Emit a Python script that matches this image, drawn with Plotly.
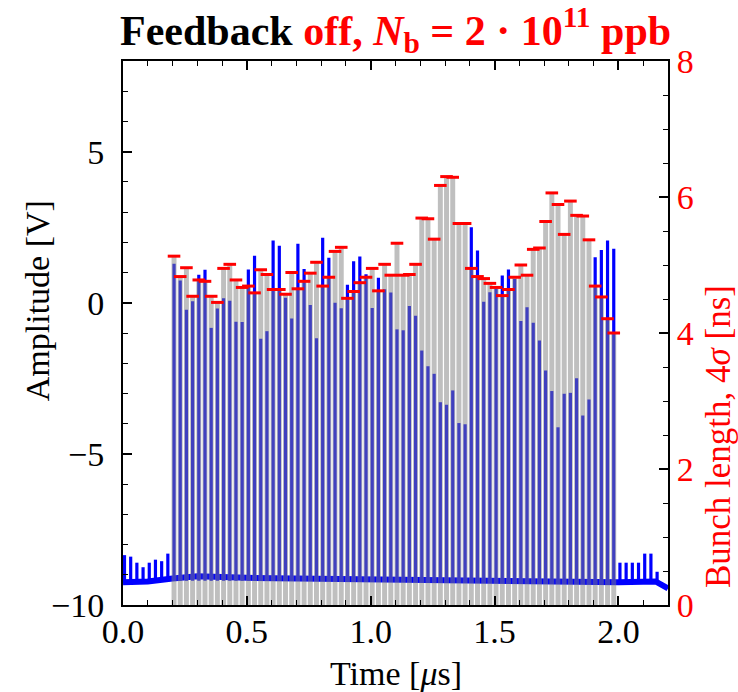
import plotly.graph_objects as go

# Bunch train: 72 bunches, 25 ns apart
bunch_number = list(range(1, 73))
first_bunch_us = 0.206
bunch_spacing_us = 0.025

# Bunch length (4 sigma) per bunch, ns  -> right axis
bunch_length_ns = [
    5.13, 4.83, 4.96, 4.54, 4.78, 4.76, 4.54, 4.45, 4.95, 5.01,
    4.78, 4.67, 4.69, 4.59, 4.93, 4.86, 4.64, 4.64, 4.57, 4.89,
    4.65, 4.76, 4.88, 5.04, 4.69, 4.82, 5.20, 5.26, 4.51, 4.61,
    4.74, 4.82, 4.95, 4.62, 5.01, 4.85, 5.32, 4.85, 4.86, 5.01,
    5.69, 5.68, 5.38, 6.17, 6.30, 6.29, 5.61, 5.61, 4.95, 4.83,
    4.80, 4.73, 4.67, 4.55, 4.64, 4.82, 5.00, 4.85, 5.23, 5.25,
    5.64, 6.06, 5.89, 5.45, 5.94, 5.73, 5.72, 5.37, 4.69, 4.53,
    4.21, 4.00,
]

# Peak of the pick-up signal per bunch, V  -> left axis
peak_amplitude_v = [
    1.29, 0.74, -0.23, 0.05, 0.93, 1.09, -0.83, -0.19, 0.15, 0.07,
    -0.63, -0.64, 1.10, 1.56, -1.19, -0.94, 2.06, 1.89, 0.17, -0.52,
    1.95, 1.12, -0.07, -1.17, 2.15, 1.49, 0.00, -0.18, 0.60, 1.37,
    1.53, 0.94, -0.17, 0.83, 0.45, 0.34, -0.88, -0.91, -0.11, -0.43,
    -1.58, -2.10, -2.35, -3.29, -3.37, -2.90, -3.98, -4.02, 2.50, 1.73,
    0.03, 0.35, 0.46, 0.90, 1.10, 0.79, -0.60, -0.15, -0.66, -1.25,
    -2.24, -2.92, -4.12, -3.01, -2.98, -2.50, -3.73, -3.20, 1.51, 1.75,
    2.06, 1.79,
]

# Small pulses in the empty buckets before and after the train
pre_pulse_t = [0.006, 0.031, 0.056, 0.081, 0.106, 0.131, 0.156, 0.181]
pre_pulse_v = [-8.35, -8.40, -8.60, -8.75, -8.60, -8.50, -8.55, -8.30]
post_pulse_t = [2.006, 2.031, 2.056, 2.081, 2.106, 2.131, 2.156]
post_pulse_v = [-8.60, -8.60, -8.60, -8.60, -8.30, -8.30, -8.90]

# Signal baseline
baseline_t = [0.0, 0.1, 0.2, 0.3, 0.5, 0.9, 1.3, 1.8, 2.0, 2.15, 2.2]
baseline_v = [-9.25, -9.22, -9.12, -9.05, -9.10, -9.15, -9.20, -9.25, -9.25, -9.22, -9.45]
spike_floor_v = -9.2

bunch_t = [first_bunch_us + (n - 1) * bunch_spacing_us for n in bunch_number]

BLUE = "#0000ff"
SERIF = "Liberation Serif"

fig = go.Figure()

# baseline of the pick-up signal
fig.add_trace(go.Scatter(
    x=baseline_t, y=baseline_v, mode="lines",
    line=dict(color=BLUE, width=6), yaxis="y", hoverinfo="skip",
))

# one vertical pulse per bucket
pulse_t = pre_pulse_t + bunch_t + post_pulse_t
pulse_v = pre_pulse_v + peak_amplitude_v + post_pulse_v
xs, ys = [], []
for t, v in zip(pulse_t, pulse_v):
    xs += [t, t, None]
    ys += [spike_floor_v, v, None]
fig.add_trace(go.Scatter(
    x=xs, y=ys, mode="lines",
    line=dict(color=BLUE, width=3.2), yaxis="y", hoverinfo="skip",
))

# bunch length bars (translucent, drawn over the signal)
fig.add_trace(go.Bar(
    x=bunch_t, y=bunch_length_ns, width=0.02, yaxis="y2",
    marker=dict(color="rgba(128,128,128,0.5)", line=dict(width=0)),
))

# red caps at the bar tops
fig.add_trace(go.Scatter(
    x=bunch_t, y=bunch_length_ns, mode="markers", yaxis="y2",
    marker=dict(symbol="line-ew", size=9, line=dict(color="#ff0000", width=3)),
))

tick_font = dict(family=SERIF, size=34, color="black")

fig.update_layout(
    width=738, height=692,
    margin=dict(l=123, r=70, t=61, b=87),
    paper_bgcolor="white", plot_bgcolor="white",
    showlegend=False, barmode="overlay",
    xaxis=dict(
        range=[0, 2.2], showgrid=False, zeroline=False,
        showline=True, linecolor="black", linewidth=2, mirror="ticks",
        ticks="inside", ticklen=9, tickwidth=1.5, tickcolor="black",
        tickvals=[0, 0.5, 1.0, 1.5, 2.0],
        ticktext=["0.0", "0.5", "1.0", "1.5", "2.0"],
        tickfont=tick_font, ticklabelstandoff=-5,
        minor=dict(ticks="inside", ticklen=5, tickwidth=1, dtick=0.1, tick0=0, tickcolor="black"),
    ),
    yaxis=dict(
        range=[-10, 8], showgrid=False, zeroline=False,
        showline=True, linecolor="black", linewidth=2,
        ticks="inside", ticklen=9, tickwidth=1.5, tickcolor="black",
        tickvals=[-10, -5, 0, 5],
        ticktext=["\u221210", "\u22125", "0", "5"],
        tickfont=tick_font, ticklabelstandoff=10,
        minor=dict(ticks="inside", ticklen=5, tickwidth=1, dtick=1, tick0=0, tickcolor="black"),
    ),
    yaxis2=dict(
        range=[0, 8], overlaying="y", side="right",
        showgrid=False, zeroline=False,
        showline=True, linecolor="black", linewidth=2,
        ticks="inside", ticklen=9, tickwidth=1.5, tickcolor="black",
        tickvals=[0, 2, 4, 6, 8],
        tickfont=dict(family=SERIF, size=34, color="#ff0000"),
        minor=dict(ticks="inside", ticklen=5, tickwidth=1, dtick=0.5, tick0=0, tickcolor="black"),
    ),
    annotations=[
        dict(
            text="<b>Feedback <span style='color:#ff0000'>off, <i>N</i><sub>b</sub> = 2 \u00b7 10<sup>11</sup> ppb</span></b>",
            xref="paper", yref="paper", x=0.5, y=1, xanchor="center", yanchor="bottom",
            yshift=0, showarrow=False, font=dict(family=SERIF, size=42, color="black"),
        ),
        dict(
            text="Amplitude [V]", textangle=-90,
            xref="paper", yref="paper", x=-0.158, y=0.56, xanchor="center", yanchor="middle",
            showarrow=False, font=dict(family=SERIF, size=34, color="black"),
        ),
        dict(
            text="Bunch length, 4<i>\u03c3</i> [ns]", textangle=-90,
            xref="paper", yref="paper", x=1.093, y=0.31, xanchor="center", yanchor="middle",
            showarrow=False, font=dict(family=SERIF, size=35, color="#ff0000"),
        ),
        dict(
            text="Time [<i>\u03bc</i>s]",
            xref="paper", yref="paper", x=0.5, y=-0.125, xanchor="center", yanchor="middle",
            showarrow=False, font=dict(family=SERIF, size=34, color="black"),
        ),
    ],
)

fig.write_html("out.html")
